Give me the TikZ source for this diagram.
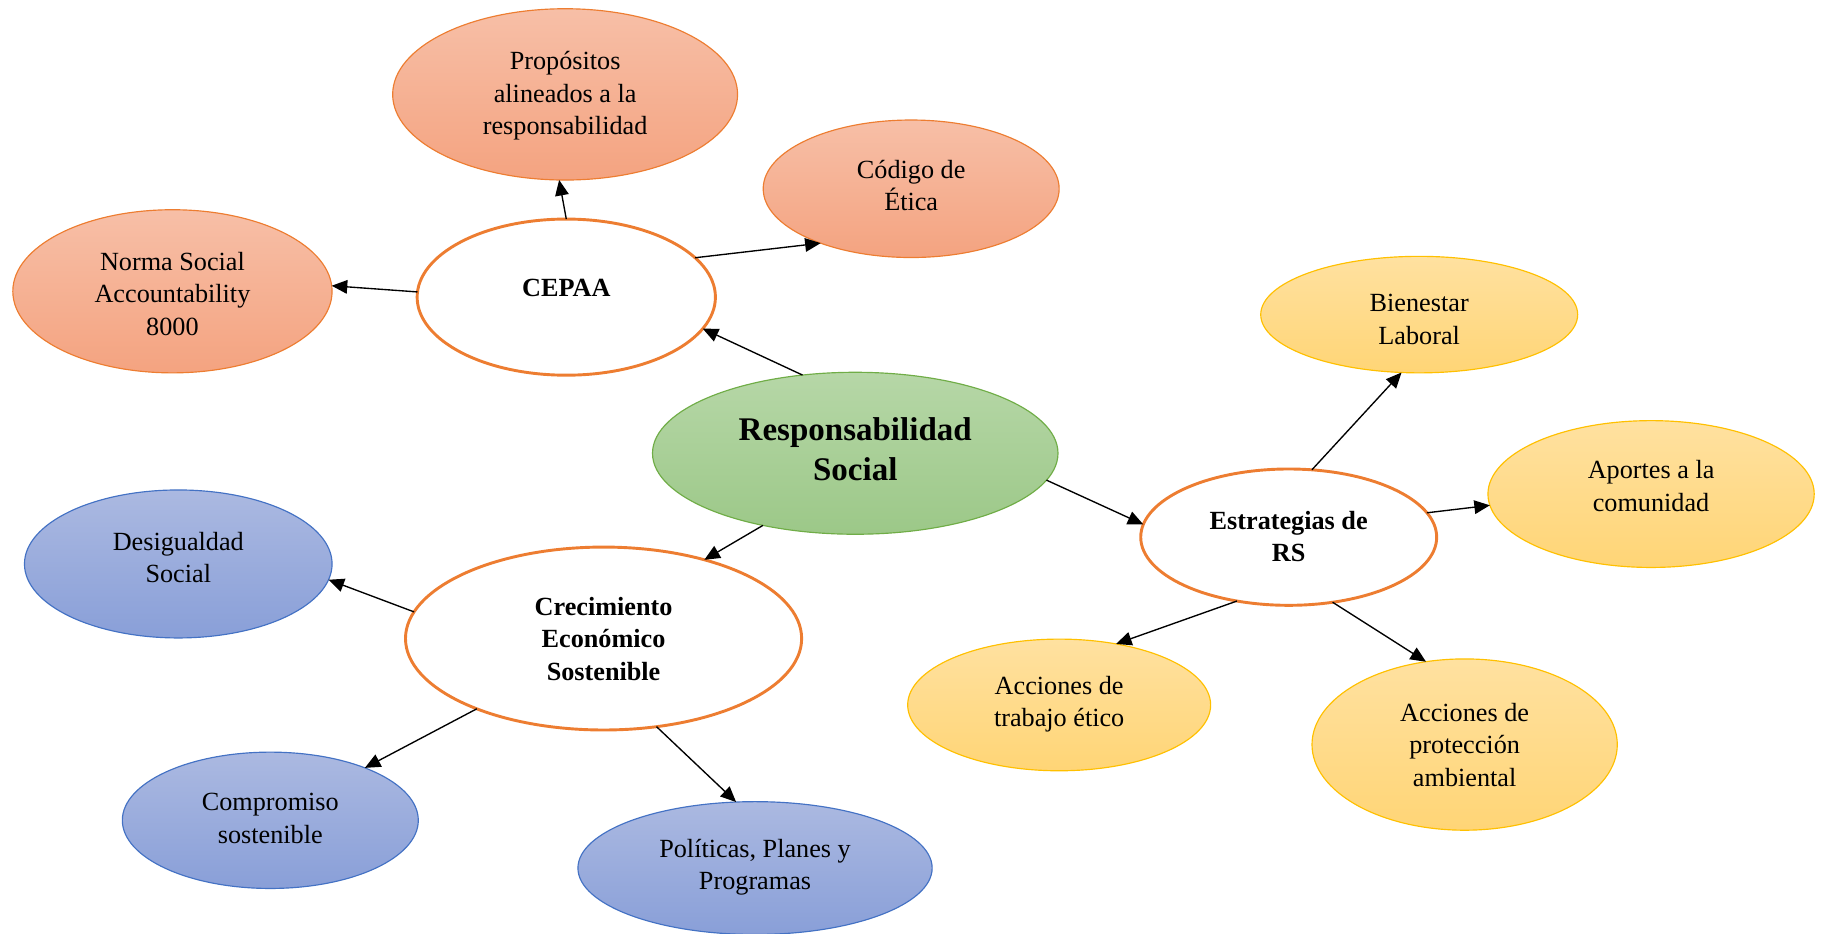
\documentclass[tikz,border=0pt]{standalone}
\usepackage{fontspec}
\setmainfont{Liberation Serif}
\usetikzlibrary{shapes.geometric,arrows.meta}
\definecolor{salT}{RGB}{247,191,167}
\definecolor{salB}{RGB}{244,163,128}
\definecolor{grnT}{RGB}{182,215,167}
\definecolor{grnB}{RGB}{156,200,136}
\definecolor{grnD}{RGB}{112,173,71}
\definecolor{yelT}{RGB}{255,225,160}
\definecolor{yelB}{RGB}{255,213,118}
\definecolor{yelD}{RGB}{255,192,0}
\definecolor{bluT}{RGB}{171,185,225}
\definecolor{bluB}{RGB}{137,159,216}
\definecolor{bluD}{RGB}{68,114,196}
\definecolor{orgD}{RGB}{237,125,49}
\tikzset{
  ell/.style 2 args={ellipse, outer sep=0pt, inner sep=0pt, minimum width=#1*1.2pt, minimum height=#2*1.2pt},
  salmon/.style={top color=salT, bottom color=salB, draw=orgD, line width=0.6pt},
  greenf/.style={top color=grnT, bottom color=grnB, draw=grnD, line width=0.6pt},
  yellowf/.style={top color=yelT, bottom color=yelB, draw=yelD, line width=0.6pt},
  bluef/.style={top color=bluT, bottom color=bluB, draw=bluD, line width=0.6pt},
  whitef/.style={fill=white, draw=orgD, line width=1.5pt},
  txt/.style={align=center, inner sep=0pt, yshift=-1.4pt, font=\fontsize{13.5}{16.8}\selectfont},
  btxt/.style={align=center, inner sep=0pt, yshift=-1.4pt, font=\fontsize{13.5}{16.8}\selectfont\bfseries},
  arr/.style={draw=black, line width=0.7pt, -{Triangle[length=8pt,width=7pt]}}
}
\begin{document}
\begin{tikzpicture}[x=0.6pt,y=0.6pt]
\useasboundingbox (0,0) rectangle (1568,-801);
% ellipses
\node[ell={148}{73.5}, salmon] (prop) at (485,-81) {};
\node[ell={127}{59}, salmon] (cod) at (782,-162) {};
\node[ell={137}{70}, salmon] (norma) at (148,-250) {};
\node[ell={128}{67}, whitef] (cepaa) at (486,-255) {};
\node[ell={174}{69.5}, greenf] (resp) at (734,-389) {};
\node[ell={127}{58.5}, whitef] (estr) at (1106,-461) {};
\node[ell={136}{50}, yellowf] (bien) at (1218,-270) {};
\node[ell={140}{63}, yellowf] (aport) at (1417,-424) {};
\node[ell={130}{56.5}, yellowf] (trab) at (909,-605) {};
\node[ell={131}{73.5}, yellowf] (prot) at (1257,-639) {};
\node[ell={170}{78.5}, whitef] (crec) at (518,-548) {};
\node[ell={132}{63.5}, bluef] (desig) at (153,-484) {};
\node[ell={127}{58.5}, bluef] (comp) at (232,-704) {};
\node[ell={152}{57}, bluef] (polit) at (648,-745) {};
% texts
\node[txt] (propT) at (485,-80) {Propósitos\\alineados a la\\responsabilidad};
\node[txt] (codT) at (782,-157) {Código de\\Ética};
\node[txt] (normaT) at (148,-250) {Norma Social\\Accountability\\8000};
\node[btxt] (cepaaT) at (486,-245) {CEPAA};
\node[align=center, inner sep=0pt, yshift=-1.4pt, font=\fontsize{17}{20.4}\selectfont\bfseries] (respT) at (734,-383) {Responsabilidad\\Social};
\node[btxt] (estrT) at (1106,-458) {Estrategias de\\RS};
\node[txt] (bienT) at (1218,-272) {Bienestar\\Laboral};
\node[txt] (aportT) at (1417,-415) {Aportes a la\\comunidad};
\node[txt] (trabT) at (909,-602) {Acciones de\\trabajo ético};
\node[txt] (protT) at (1257,-637) {Acciones de\\protección\\ambiental};
\node[btxt] (crecT) at (518,-546) {Crecimiento\\Económico\\Sostenible};
\node[txt] (desigT) at (153,-476) {Desigualdad\\Social};
\node[txt] (compT) at (232,-700) {Compromiso\\sostenible};
\node[txt] (politT) at (648,-742) {Políticas, Planes y\\Programas};
% connectors
\draw[arr] (resp.124) -- (cepaa.-13);
\draw[arr] (cepaa.90) -- (prop.266);
\draw[arr] (cepaa.17) -- (cod.211.6);
\draw[arr] (cepaa.178.2) -- (norma.2.5);
\draw[arr] (resp.-8.6) -- (estr.175.5);
\draw[arr] (estr.71) -- (bien.253.6);
\draw[arr] (estr.10) -- (aport.184.9);
\draw[arr] (estr.231.2) -- (trab.47.7);
\draw[arr] (estr.304.6) -- (prot.115);
\draw[arr] (resp.218.5) -- (crec.38);
\draw[arr] (crec.172.5) -- (desig.354.3);
\draw[arr] (crec.209) -- (comp.29.8);
\draw[arr] (crec.301.3) -- (polit.106.6);
\end{tikzpicture}
\end{document}
